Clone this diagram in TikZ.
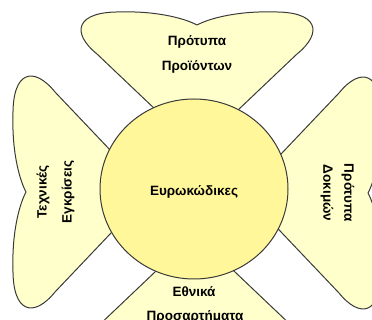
\documentclass[tikz,border=0pt]{standalone}
\usepackage{fontspec}
\setmainfont{Liberation Sans}
\definecolor{petalfill}{HTML}{FFFFCC}
\definecolor{hubfill}{HTML}{FFF799}
\definecolor{edge}{HTML}{3A3A3A}
\newcommand{\petalpath}{(0,40) -- (100,135) .. controls (126,156) and (122,178) .. (75,177) .. controls (45,178) and (15,172) .. (0,164) .. controls (-15,172) and (-45,178) .. (-75,177) .. controls (-122,178) and (-126,156) .. (-100,135) -- cycle}
\tikzset{
  petal/.style={fill=petalfill, draw=edge, line width=1pt, line join=round},
  hub/.style={fill=hubfill, draw=edge, line width=1pt},
  lbl/.style={font=\bfseries\fontsize{13.5}{16}\selectfont, inner sep=0pt, text=black}
}
\begin{document}
\begin{tikzpicture}[x=1pt,y=1pt]
\useasboundingbox (0,0) rectangle (372,320);
\clip (0,0) rectangle (372,320);
\begin{scope}[shift={(197,131)}]
  \path[petal] \petalpath;
\end{scope}
\begin{scope}[shift={(194,128)},rotate=90,yshift=4]
  \path[petal] \petalpath;
\end{scope}
\begin{scope}[shift={(194,127)},rotate=-90,yshift=10]
  \path[petal] \petalpath;
\end{scope}
\begin{scope}[shift={(195,131)},rotate=180,yshift=5]
  \path[petal] \petalpath;
\end{scope}
\path[hub] (194,131) ellipse [x radius=94, y radius=90];
\node[lbl] (hubtext) at (194,128) {Ευρωκώδικες};
\node[lbl] (top1) at (197,278) {Πρότυπα};
\node[lbl] (top2) at (197,253) {Προϊόντων};
\node[lbl,rotate=90] (left1) at (43,128) {Τεχνικές};
\node[lbl,rotate=90] (left2) at (68,128) {Εγκρίσεις};
\node[lbl,rotate=-90] (right1) at (348,127) {Πρότυπα};
\node[lbl,rotate=-90] (right2) at (327,127) {Δοκιμών};
\node[lbl] (bot1) at (194,28) {Εθνικά};
\node[lbl,anchor=base] (bot2) at (195,-1) {Προσαρτήματα};
\end{tikzpicture}
\end{document}
